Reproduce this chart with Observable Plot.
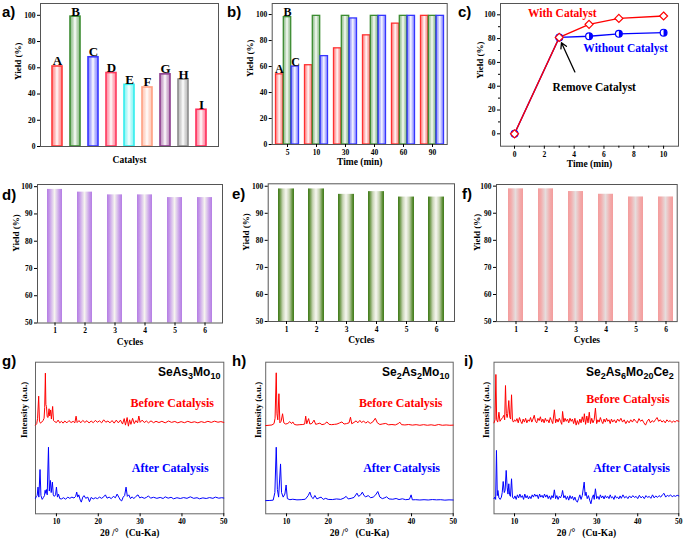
<!DOCTYPE html>
<html><head><meta charset="utf-8">
<script src="https://cdn.jsdelivr.net/npm/d3@7"></script>
<script src="https://cdn.jsdelivr.net/npm/@observablehq/plot@0.6"></script>
<style>
body{margin:0;background:#fff;}
#root{position:relative;width:685px;height:541px;overflow:hidden;background:#fff;}
.p{position:absolute;}
.lbl{position:absolute;font:bold 15px 'Liberation Sans',Arial,sans-serif;color:#000;line-height:1;}
.formula{position:absolute;font:bold 12px 'Liberation Sans',Arial,sans-serif;white-space:nowrap;line-height:1;color:#000;}
.formula sub{font-size:9px;vertical-align:-3px;line-height:0;}
</style></head><body><div id="root"></div>
<script>
// ---------- DATA ----------
const catalysts = ["A","B","C","D","E","F","G","H","I"];
const catalystYield = [61,99,68,56,47,45,55,51,28];
const catalystColors = ["#ff3b3b","#3c8c32","#3636ff","#ff3a5e","#33eeee","#ffa082","#8e3d8e","#8c8c8c","#ff2d5a"];

const times = ["5","10","30","40","60","90"];
const yieldA = [54,61,74,84,93,99];
const yieldB = [98,99,99,99,99,99];
const yieldC = [60,68,97,99,99,99];
const seriesNames = ["A","B","C"];
const seriesColors = ["#ff3030","#3c8c32","#3636ff"];

const cTime = [0,3,5,7,10];
const withCat = [0,81,92,97,99];
const withoutCat = [0,81,82,84,85];

const cycles = ["1","2","3","4","5","6"];
const cyclesD = [99,98,97,97,96,96];
const cyclesE = [99,99,97,98,96,96];
const cyclesF = [99,99,98,97,96,96];

const xrdTicks = [10,20,30,40,50];
const gBefore = [[5.0,58.5],[5.3,59.5],[5.5,63],[5.76,77.6],[5.95,61],[6.2,59.8],[6.5,60.5],[6.8,61.5],[7.05,63],[7.2,70],[7.36,92.8],[7.48,72],[7.62,70.8],[7.8,64],[8.0,63.5],[8.24,69.3],[8.4,64.5],[8.62,68.5],[8.8,62.5],[9.1,70.8],[9.3,61.5],[9.6,60.8],[10.0,60.2],[10.4,61.8],[10.8,60],[11.2,61],[11.6,59.8],[12.0,61.2],[12.5,60],[13.0,61.5],[13.5,60.2],[14.0,61],[14.4,60],[14.7,64.4],[14.95,60.2],[15.4,61.5],[15.8,60],[16.3,61.6],[16.8,60.3],[17.3,61.4],[17.8,59.9],[18.3,61.2],[18.8,60.1],[19.3,61.6],[19.8,60.4],[20.3,61.3],[20.8,60],[21.3,62],[21.8,60.4],[22.3,61.2],[22.8,60],[23.3,61.5],[23.8,59.8],[24.3,61.8],[24.8,60],[25.3,61.8],[25.8,59.2],[26.2,62.8],[26.5,58.5],[26.9,63.5],[27.2,57.8],[27.5,62],[27.8,59],[28.2,63],[28.6,59.5],[29.0,61.5],[29.4,60],[29.7,64.5],[30.0,60.3],[30.5,61.8],[31.0,60.2],[31.5,61.2],[32.0,60],[32.6,61.3],[33.2,60.1],[33.8,61],[34.5,60.2],[35.2,61],[36.0,60],[36.8,61.2],[37.5,60.3],[38.3,60.9],[39.0,60],[39.8,60.8],[40.6,60.1],[41.4,61],[42.2,60.2],[43.0,60.7],[43.8,60],[44.6,60.8],[45.4,60.2],[46.2,61],[47.0,60.3],[47.8,61.1],[48.6,60.4],[49.3,60.8],[50.0,60.3]];
const gAfter = [[5.0,10.2],[5.2,11.5],[5.4,12],[5.6,17.6],[5.8,11],[6.08,29.2],[6.3,12],[6.6,9.5],[6.9,10.8],[7.15,12],[7.3,15.5],[7.45,13.5],[7.6,16],[7.8,12.5],[8.1,43.9],[8.3,15],[8.56,22],[8.75,14],[9.04,20.9],[9.25,12.5],[9.5,11.5],[9.8,12.5],[10.0,17.6],[10.25,11],[10.5,13],[10.8,10],[11.2,9.8],[11.7,10.6],[12.2,9.6],[12.7,11],[13.2,10.2],[13.7,11],[14.2,10.4],[14.6,11.5],[14.85,14.3],[15.1,11],[15.35,12.5],[15.7,9],[15.95,7.7],[16.3,11],[16.6,12],[17.0,10.2],[17.5,11],[17.9,8],[18.3,10.8],[18.8,9.8],[19.3,10.6],[19.8,10],[20.3,11],[20.8,10.2],[21.3,11.2],[21.7,12.5],[22.1,10.3],[22.6,11],[23.1,10],[23.6,11.5],[24.1,10.6],[24.5,13],[24.9,11],[25.3,9],[25.6,8.5],[25.95,11],[26.3,12],[26.64,17.6],[26.95,11.5],[27.3,12.5],[27.7,10],[28.1,11.2],[28.5,10],[29.0,11.5],[29.5,12.5],[29.9,10.5],[30.4,11],[31.0,10.2],[31.5,10.8],[32.0,11.8],[32.5,10.3],[33.2,10.9],[34.0,10.2],[34.8,10.8],[35.5,10.1],[36.0,11.2],[36.7,10.3],[37.4,10.9],[38.0,9.9],[38.8,10.6],[39.6,10.1],[40.4,10.7],[41.2,10.2],[42.0,11.2],[42.8,10.2],[43.6,10.6],[44.2,9.9],[45.0,10.5],[45.8,10.1],[46.6,10.7],[47.4,10.2],[48.0,11],[48.8,10.3],[49.5,10.6],[50.0,10.4]];
const hBefore = [[5.0,58.2],[5.8,58.4],[6.5,58.6],[7.0,59.5],[7.25,63],[7.53,93],[7.7,66],[7.9,62],[8.17,79.2],[8.4,60],[8.7,61],[9.05,66],[9.35,60],[9.8,59.2],[10.3,59.6],[10.8,60.8],[11.2,59.5],[11.5,60.6],[11.9,58.9],[12.5,58.6],[13.2,58.8],[13.9,58.9],[14.35,59.2],[14.6,64.4],[14.85,59.4],[15.3,62.8],[15.6,59.2],[16.1,59.6],[16.6,61.8],[17.0,59],[17.5,59.4],[18.0,59.8],[18.5,58.8],[19.1,59.2],[19.7,60.6],[20.2,59],[20.8,58.8],[21.5,59],[22.1,59.2],[22.7,59.9],[23.3,60.6],[23.8,59.2],[24.4,59.5],[25.0,60],[25.35,63.7],[25.65,59.4],[26.2,60.3],[26.7,61.3],[27.1,60],[27.6,61.6],[28.0,60.2],[28.5,61.2],[29.0,59.8],[29.5,60.9],[30.1,59.6],[30.7,60.6],[31.3,63],[31.8,60],[32.4,58.9],[33.1,59.3],[33.8,59.6],[34.5,58.7],[35.3,58.9],[36.1,58.6],[36.8,59.5],[37.2,60.4],[37.6,58.8],[38.4,58.6],[39.3,58.9],[40.2,58.5],[41.1,58.8],[42.0,58.4],[42.9,58.8],[43.8,58.4],[44.7,58.7],[45.6,58.3],[46.5,58.9],[47.4,58.4],[48.3,58.6],[49.2,58.4],[50.0,58.5]];
const hAfter = [[5.0,8.7],[6.0,8.8],[6.8,9],[7.2,14],[7.53,43.9],[7.8,16],[8.1,11],[8.56,32.9],[8.8,14],[9.2,11],[9.6,13],[9.9,19],[10.2,10],[10.8,9.3],[11.5,9.6],[12.5,9.2],[13.5,9.3],[14.5,9.6],[15.2,12],[15.6,14.3],[16.0,11],[16.4,10],[16.8,12.1],[17.3,9.8],[17.8,10.5],[18.3,11],[18.8,9.5],[19.4,10.2],[20.0,9.5],[21.0,9.4],[22.0,9.8],[23.0,9.5],[23.8,10.4],[24.3,11.5],[24.8,9.8],[25.5,10.2],[26.2,10.8],[26.9,13.6],[27.3,11.5],[27.8,12.5],[28.2,14.3],[28.6,12],[29.0,11.2],[29.6,12],[30.2,10.6],[30.8,11],[31.4,12.5],[31.9,14.7],[32.4,11],[33.0,10],[33.6,10.6],[34.0,11.2],[34.6,9.8],[35.5,9.6],[36.3,10.1],[37.0,9.4],[37.8,9.9],[38.6,9.3],[39.5,9.6],[39.9,12.5],[40.2,9.2],[41.0,9.3],[42.0,9.1],[43.0,9.3],[44.0,9.1],[45.0,9.4],[46.0,9.2],[47.0,9.3],[48.0,9],[49.0,9.2],[50.0,9.1]];
const iBefore = [[5.0,60],[5.25,62],[5.46,91.9],[5.65,62],[5.9,60.5],[6.2,67],[6.45,61],[6.8,62.5],[7.1,63.5],[7.4,65],[7.6,62],[7.8,84.6],[8.0,66],[8.2,63.5],[8.35,66],[8.6,74.7],[8.85,63.7],[9.05,62.5],[9.27,78.5],[9.5,61.5],[9.75,60.5],[10.0,62],[10.3,61],[10.6,62.8],[10.9,60],[11.2,63.5],[11.5,61],[11.8,59.5],[12.1,62.5],[12.4,60.5],[12.7,63],[13.0,60],[13.3,62],[13.6,61],[13.9,63.5],[14.2,60.5],[14.5,62.5],[14.8,65],[15.1,61],[15.4,60],[15.7,63],[16.0,61.5],[16.3,64],[16.6,60.5],[16.9,62.5],[17.2,60],[17.5,63],[17.8,61],[18.1,62],[18.4,60],[18.7,63.5],[19.0,61.5],[19.3,59.5],[19.7,68.6],[20.0,60],[20.3,62.5],[20.6,60.5],[20.9,63],[21.2,61],[21.5,59],[21.7,67.5],[22.0,60.5],[22.3,63],[22.6,61],[22.9,62.5],[23.2,60],[23.5,63],[23.8,61],[24.1,62.5],[24.4,59.5],[24.7,63],[25.0,58.5],[25.3,61.5],[25.6,59],[25.9,62.5],[26.2,60],[26.5,64],[26.8,60.5],[27.0,66],[27.3,59],[27.6,64.5],[27.9,60],[28.2,67],[28.5,59.5],[28.8,63],[29.1,60],[29.4,62],[29.7,69.7],[30.0,59.5],[30.3,62],[30.6,60.5],[30.9,63.5],[31.2,61],[31.5,59.5],[31.8,62.5],[32.1,60.5],[32.4,63],[32.7,61],[33.0,62],[33.3,59.5],[33.6,62.5],[33.9,60.5],[34.3,62],[34.7,60],[35.1,62.5],[35.5,61],[35.9,63],[36.3,60.5],[36.7,62],[37.1,59.5],[37.5,61.5],[37.9,60],[38.3,62],[38.7,60.5],[39.1,62.5],[39.5,61],[39.9,60],[40.3,62.8],[40.7,61],[41.1,62],[41.5,60],[41.9,58.5],[42.3,61],[42.7,62.5],[43.1,60],[43.5,61.5],[43.9,60.5],[44.3,62],[44.7,63.5],[45.1,61],[45.5,62],[45.9,60.5],[46.3,61.5],[46.7,60],[47.1,62],[47.5,60.8],[47.9,61.5],[48.3,60.2],[48.7,61.2],[49.1,60.5],[49.5,61.5],[50.0,61]];
const iAfter = [[5.0,10],[5.2,11],[5.4,9.5],[5.6,41.8],[5.8,12],[5.95,15.4],[6.2,10.5],[6.5,9.5],[6.8,11],[7.0,14],[7.24,21.3],[7.5,14],[7.7,15.4],[7.97,28.6],[8.2,17.6],[8.4,13],[8.6,19.8],[8.8,12.5],[9.0,11.5],[9.27,23.1],[9.5,11],[9.8,10],[10.1,11.8],[10.4,9.5],[10.7,12.5],[11.0,10.5],[11.3,13],[11.6,10.8],[11.9,12],[12.2,9.5],[12.5,13],[12.8,10.5],[13.1,12],[13.4,9.8],[13.7,11.5],[14.0,10],[14.3,12.5],[14.6,11],[14.9,13],[15.2,11.5],[15.5,12.5],[15.8,10],[16.1,13],[16.4,11],[16.7,12.2],[17.0,10.5],[17.3,13],[17.6,11],[17.9,12.5],[18.2,10],[18.5,11.8],[18.8,9.5],[19.1,12],[19.4,10.5],[19.7,15.8],[20.0,10],[20.3,12],[20.6,9.5],[20.9,11.5],[21.2,10.5],[21.5,12.5],[21.7,15.4],[22.0,10.5],[22.3,12],[22.6,9.5],[22.9,11.5],[23.2,9],[23.5,12],[23.8,10],[24.1,11.5],[24.4,9],[24.7,11],[25.0,8.5],[25.3,7.7],[25.6,10],[25.9,12.5],[26.2,9.5],[26.5,12],[26.96,20.9],[27.2,12],[27.4,14.3],[27.7,10],[28.0,12],[28.3,9],[28.6,6.6],[28.9,10.5],[29.2,12.5],[29.4,9.5],[29.7,16.5],[30.0,10],[30.3,11.5],[30.6,9.5],[30.9,12.5],[31.2,10.5],[31.5,11.8],[31.8,9.8],[32.1,12],[32.4,10.5],[32.7,11.5],[33.0,10],[33.3,12.5],[33.6,10.5],[33.9,11.2],[34.2,9.5],[34.5,12],[34.8,10.5],[35.1,11],[35.4,9.8],[35.7,11.8],[36.0,10.2],[36.4,12.5],[36.8,10.5],[37.2,11.5],[37.6,10],[38.0,11.8],[38.4,10.5],[38.8,12],[39.2,10.8],[39.6,11.5],[40.0,10],[40.4,12.2],[40.8,10.5],[41.2,11.5],[41.6,10],[42.0,12],[42.4,10.8],[42.8,11.5],[43.2,10.2],[43.6,12.5],[44.0,10.5],[44.4,11.8],[44.8,10.8],[45.2,12],[45.6,11],[46.0,12.5],[46.4,13.5],[46.8,11],[47.2,12.2],[47.6,11.5],[48.0,12.5],[48.4,11.2],[48.8,12],[49.2,11.5],[49.6,12.2],[50.0,11.8]];

// ---------- SETUP ----------
const root = document.getElementById("root");
const serif = "'Liberation Serif','Times New Roman',serif";
const baseStyle = {fontFamily: serif, fontWeight: "bold", fontSize: "7.5px", background: "transparent", overflow: "visible", color: "#000"};
function place(el, left, top, w, h) {
  const d = document.createElement("div");
  d.className = "p"; d.style.left = left + "px"; d.style.top = top + "px";
  d.style.width = w + "px"; d.style.height = h + "px";
  d.appendChild(el); root.appendChild(d);
}
function html(cls, content, left, top) {
  const d = document.createElement("div");
  d.className = cls; d.innerHTML = content;
  d.style.left = left + "px"; d.style.top = top + "px";
  root.appendChild(d); return d;
}

// gradients
const defs = d3.select("body").insert("svg", ":first-child")
  .attr("width", 0).attr("height", 0).style("position", "absolute").append("defs");
function grad(id, stops) {
  const g = defs.append("linearGradient").attr("id", id)
    .attr("x1", "0%").attr("x2", "100%").attr("y1", "0%").attr("y2", "0%");
  stops.forEach(([o, c, op]) => g.append("stop").attr("offset", o).attr("stop-color", c).attr("stop-opacity", op ?? 1));
}
catalystColors.forEach((c, i) => grad("ga" + i, [[0, c, 0.55], [0.5, "#ffffff", 1], [1, c, 0.55]]));
seriesColors.forEach((c, i) => grad("gb" + i, [[0, c, 0.5], [0.5, "#ffffff", 1], [1, c, 0.5]]));
grad("gd", [[0, "#b47ce4"], [0.18, "#c79de9"], [0.5, "#f5f3ef"], [0.82, "#c79de9"], [1, "#b47ce4"]]);
grad("ge", [[0, "#3d7a18"], [0.1, "#5f8f38"], [0.3, "#c8d5b5"], [0.5, "#f7f7f1"], [0.7, "#c8d5b5"], [0.9, "#5f8f38"], [1, "#3d7a18"]]);
grad("gf", [[0, "#f49c9c"], [0.2, "#f2acac"], [0.5, "#e6dddd"], [0.8, "#f2acac"], [1, "#f49c9c"]]);

const frameStroke = "#555";
function yLabel(text, dx, dy) {
  return Plot.text([text], {frameAnchor: "left", rotate: -90, dx, dy, fontSize: 9, fontWeight: "bold", fontFamily: serif});
}
function xLabel(text, dy) {
  return Plot.text([text], {frameAnchor: "bottom", dy, fontSize: 9.5, fontWeight: "bold", fontFamily: serif, lineAnchor: "middle"});
}

// ---------- PANEL a ----------
const rowsA = catalysts.map((c, i) => ({c, y: catalystYield[i], color: catalystColors[i], fill: `url(#ga${i})`}));
place(Plot.plot({
  width: 230, height: 170, marginLeft: 40, marginRight: 12, marginTop: 3, marginBottom: 24,
  style: baseStyle,
  x: {type: "band", domain: catalysts, paddingInner: 0.46, paddingOuter: 0.54, axis: null},
  y: {domain: [0, 109], axis: null},
  color: {type: "identity"},
  marks: [
    Plot.barY(rowsA, {x: "c", y: "y", fill: "fill", stroke: "color", strokeWidth: 1.6}),
    Plot.text(rowsA, {x: "c", y: "y", text: "c", lineAnchor: "bottom", dy: -1, fontSize: 13, fontWeight: "bold", fontFamily: serif}),
    Plot.frame({stroke: frameStroke}),
    Plot.axisY([0, 20, 40, 60, 80, 100], {tickSize: 3, tickPadding: 2, label: null}),
    yLabel("Yield (%)", -22, 5),
    xLabel("Catalyst", 13)
  ]
}), 0, 0, 230, 170);

// ---------- PANEL b ----------
const seriesVals = [yieldA, yieldB, yieldC];
const insets = [[0.5, 16.1], [8.3, 8.3], [16.1, 0.5]];
const bMarks = seriesVals.map((vals, s) =>
  Plot.barY(times.map((t, i) => ({t, y: vals[i]})), {
    x: "t", y: "y", fill: `url(#gb${s})`, stroke: seriesColors[s], strokeWidth: 1.3,
    insetLeft: insets[s][0], insetRight: insets[s][1]
  }));
const firstGroup = seriesNames.map((n, s) => ({t: times[0], y: seriesVals[s][0], n}));
const labelDx = [-8.2, 0, 8.2];
place(Plot.plot({
  width: 230, height: 170, marginLeft: 46.7, marginRight: 8.3, marginTop: 3, marginBottom: 26,
  style: baseStyle,
  x: {type: "band", domain: times, paddingInner: 0.18, paddingOuter: 0.09},
  y: {domain: [0, 108.5]},
  marks: [
    ...bMarks,
    ...firstGroup.map((g, s) => Plot.text([g], {x: "t", y: "y", text: "n", dx: labelDx[s], lineAnchor: "bottom", dy: -1, fontSize: 12, fontWeight: "bold", fontFamily: serif})),
    Plot.frame({stroke: frameStroke}),
    Plot.axisY([0, 20, 40, 60, 80, 100], {tickSize: 3, tickPadding: 2, label: null}),
    Plot.axisX({tickSize: 3, tickPadding: 2, label: null}),
    yLabel("Yield (%)", -22, 3),
    xLabel("Time (min)", 17)
  ]
}), 225, 0, 230, 170);

// ---------- PANEL c ----------
const withRows = cTime.map((t, i) => ({t, y: withCat[i]}));
const withoutRows = cTime.map((t, i) => ({t, y: withoutCat[i]}));
const halfCircle = {draw(ctx, size) { const r = Math.sqrt(size / Math.PI); ctx.moveTo(0, -r); ctx.arc(0, 0, r, -Math.PI / 2, Math.PI / 2); ctx.closePath(); }};
const cNotes = [
  {t: 3.2, y: 101, s: "With Catalyst", c: "#ff0000"},
  {t: 7.45, y: 71.5, s: "Without Catalyst", c: "#0000ff"},
  {t: 5.35, y: 39, s: "Remove Catalyst", c: "#000000"}
];
const cArrow = [{t1: 4.05, y1: 52, t2: 3.15, y2: 76.5}];
place(Plot.plot({
  width: 230, height: 170, marginLeft: 45, marginRight: 7, marginTop: 3, marginBottom: 24.3,
  style: baseStyle,
  x: {domain: [-0.94, 11]},
  y: {domain: [-10.4, 109.5]},
  color: {type: "identity"},
  marks: [
    Plot.frame({stroke: frameStroke}),
    Plot.axisX([0, 2, 4, 6, 8, 10], {tickSize: 3, tickPadding: 2, label: null}),
    Plot.axisX([1, 3, 5, 7, 9], {tickSize: 2, tickFormat: () => "", label: null}),
    Plot.axisY([0, 20, 40, 60, 80, 100], {tickSize: 3, tickPadding: 2, label: null}),
    Plot.axisY([10, 30, 50, 70, 90], {tickSize: 2, tickFormat: () => "", label: null}),
    Plot.line(withoutRows, {x: "t", y: "y", stroke: "#0000ff", strokeWidth: 1.4}),
    Plot.line(withRows, {x: "t", y: "y", stroke: "#ff0000", strokeWidth: 1.4}),
    Plot.dot(withoutRows, {x: "t", y: "y", r: 3.4, symbol: "circle", fill: "#fff", stroke: "#0000ff", strokeWidth: 1.2}),
    Plot.dot(withoutRows, {x: "t", y: "y", r: 3.4, symbol: halfCircle, fill: "#0000ff"}),
    Plot.dot(withRows, {x: "t", y: "y", r: 3.6, symbol: "diamond2", fill: "#fff", stroke: "#ff0000", strokeWidth: 1.2}),
    Plot.text(cNotes, {x: "t", y: "y", text: "s", fill: "c", fontSize: 11.5, fontWeight: "bold", fontFamily: serif}),
    Plot.arrow(cArrow, {x1: "t1", y1: "y1", x2: "t2", y2: "y2", stroke: "#000", strokeWidth: 1.3, headLength: 7}),
    yLabel("Yield (%)", -20, 4),
    xLabel("Time (min)", 18)
  ]
}), 455, 0, 230, 170);

// ---------- PANELS d, e, f ----------
function cyclePanel(vals, gradId, m, domainTop, xopts, ydx) {
  const rows = cycles.map((c, i) => ({c, y: vals[i]}));
  return Plot.plot({
    width: 230, height: 180, marginLeft: m[0], marginRight: m[1], marginTop: m[2], marginBottom: m[3],
    style: baseStyle,
    x: {type: "band", domain: cycles, ...xopts},
    y: {domain: [50, domainTop]},
    marks: [
      Plot.barY(rows, {x: "c", y: "y", fill: `url(#${gradId})`, clip: true}),
      Plot.frame({stroke: frameStroke}),
      Plot.axisY([50, 60, 70, 80, 90, 100], {tickSize: 3, tickPadding: 2, label: null}),
      Plot.axisX({tickSize: 3, tickPadding: 2, label: null}),
      yLabel("Yield (%)", ydx, -2),
      xLabel("Cycles", 18.5)
    ]
  });
}
place(cyclePanel(cyclesD, "gd", [37, 8, 14, 27.5], 100.8, {paddingInner: 0.5, paddingOuter: 0.25}, -21), 0, 170, 230, 180);
place(cyclePanel(cyclesE, "ge", [42.7, 1, 13.3, 29], 100.9, {paddingInner: 0.48, paddingOuter: 0.26}, -22), 225, 170, 230, 180);
place(cyclePanel(cyclesF, "gf", [41, 8.3, 14, 28.9], 100.6, {paddingInner: 0.5, paddingOuter: 0.18, align: 0.78}, -19), 455, 170, 230, 180);

// ---------- PANELS g, h, i ----------
function xrdPanel(before, after, m, notes, ydx) {
  return Plot.plot({
    width: 230, height: 191, marginLeft: m[0], marginRight: m[1], marginTop: 11.7, marginBottom: 27.7,
    style: baseStyle,
    x: {domain: [5, 50]},
    y: {domain: [0, 100], axis: null},
    color: {type: "identity"},
    marks: [
      Plot.frame({stroke: "#666"}),
      Plot.axisX(xrdTicks, {tickSize: 3, tickPadding: 2, label: null}),
      Plot.line(before, {stroke: "#ff0000", strokeWidth: 1}),
      Plot.line(after, {stroke: "#0000ff", strokeWidth: 1}),
      Plot.text(notes, {x: "x", y: "y", text: "s", fill: "c", fontSize: 12, fontWeight: "bold", fontFamily: serif}),
      yLabel("Intensity (a.u.)", ydx, 0),
      xLabel("2θ /°\u00a0\u00a0\u00a0(Cu-Ka)", 19.4)
    ]
  });
}
const beforeTxt = "Before Catalysis", afterTxt = "After Catalysis";
place(xrdPanel(gBefore, gAfter, [35, 6.7], [{x: 37.7, y: 73, s: beforeTxt, c: "#ff0000"}, {x: 37.2, y: 30, s: afterTxt, c: "#0000ff"}], -11), 0, 350, 230, 191);
place(xrdPanel(hBefore, hAfter, [40.2, 2.3], [{x: 37.4, y: 73, s: beforeTxt, c: "#ff0000"}, {x: 37.6, y: 30, s: afterTxt, c: "#0000ff"}], -8), 225, 350, 230, 191);
place(xrdPanel(iBefore, iAfter, [38.5, 6.7], [{x: 37.6, y: 75.8, s: beforeTxt, c: "#ff0000"}, {x: 38.5, y: 30, s: afterTxt, c: "#0000ff"}], -8), 455, 350, 230, 191);

// formula titles
const f1 = html("formula", "SeAs<sub>3</sub>Mo<sub>10</sub>", 0, 366); f1.style.left = (220 - f1.offsetWidth) + "px";
const f2 = html("formula", "Se<sub>2</sub>As<sub>2</sub>Mo<sub>10</sub>", 0, 366); f2.style.left = (449 - f2.offsetWidth) + "px";
const f3 = html("formula", "Se<sub>2</sub>As<sub>6</sub>Mo<sub>20</sub>Ce<sub>2</sub>", 0, 366); f3.style.left = (674 - f3.offsetWidth) + "px";

// panel letters
[["a)", 2, 4], ["b)", 227, 4], ["c)", 458, 4], ["d)", 2, 187], ["e)", 232, 186], ["f)", 462, 186], ["g)", 2, 353], ["h)", 232, 353], ["i)", 464, 353]]
  .forEach(([t, x, y]) => html("lbl", t, x, y));
</script></body></html>
